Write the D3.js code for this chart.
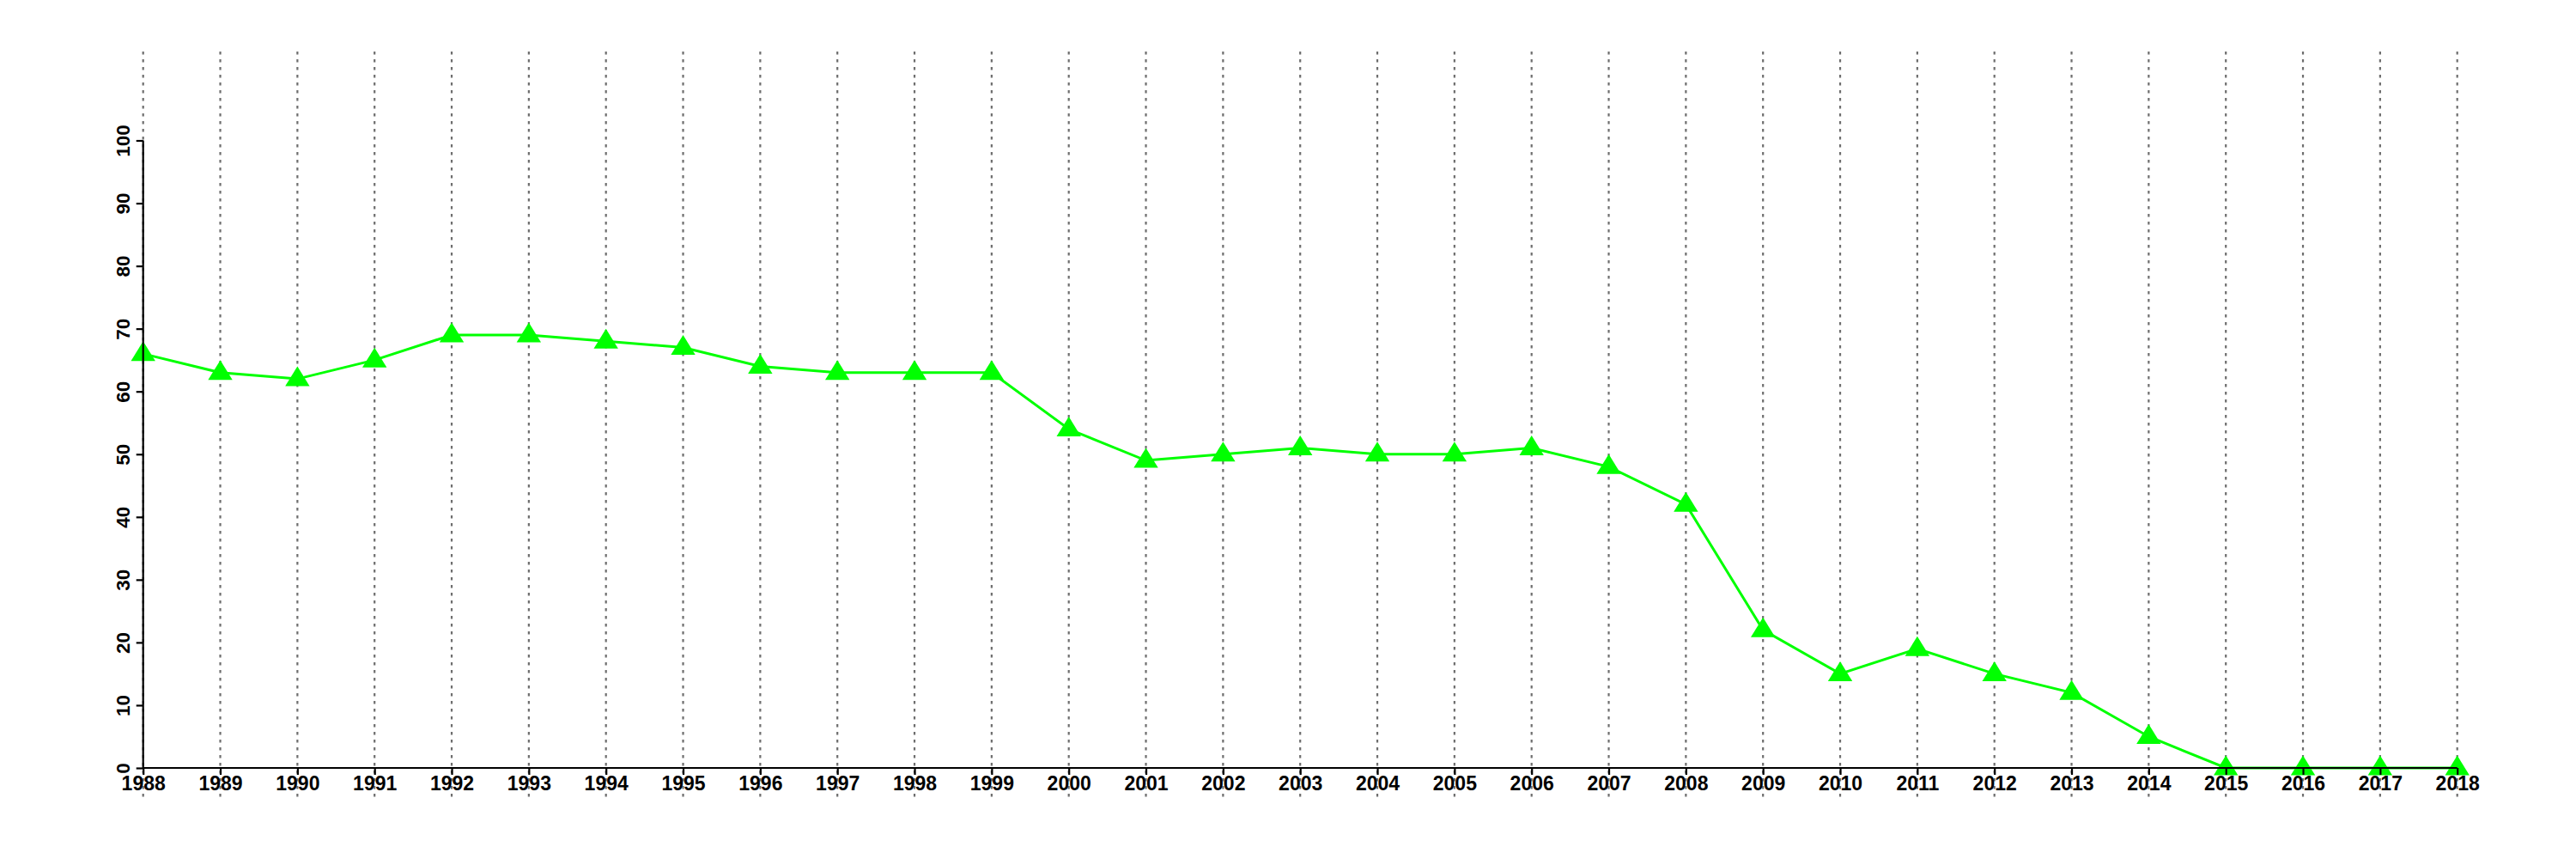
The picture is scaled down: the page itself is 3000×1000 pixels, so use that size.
<!DOCTYPE html>
<html>
<head>
<meta charset="utf-8">
<script src="https://cdn.jsdelivr.net/npm/d3@7"></script>
<style>
  html, body { margin: 0; padding: 0; background: #fff; }
  svg { display: block; }
  text { font-family: "Liberation Sans", Arial, Helvetica, sans-serif; font-weight: bold; }
</style>
</head>
<body>
<script>
const years = [1988,1989,1990,1991,1992,1993,1994,1995,1996,1997,1998,1999,2000,2001,2002,2003,2004,2005,2006,2007,2008,2009,2010,2011,2012,2013,2014,2015,2016,2017,2018];
const values = [66,63,62,65,69,69,68,67,64,63,63,63,54,49,50,51,50,50,51,48,42,22,15,19,15,12,5,0,0,0,0];
const yTicks = [0,10,20,30,40,50,60,70,80,90,100];

const W = 3000, H = 1000;
const svg = d3.select("body").append("svg").attr("width", W).attr("height", H);

const x = d3.scaleLinear().domain([1988, 2018]).range([166.7, 2861.7]);
const y = d3.scaleLinear().domain([0, 100]).range([894, 163.5]);

// vertical dotted grid lines
svg.append("g").selectAll("line").data(years).join("line")
  .attr("x1", d => x(d)).attr("x2", d => x(d))
  .attr("y1", 60).attr("y2", 928)
  .attr("stroke", "#6e6e6e").attr("stroke-width", 2.2)
  .attr("stroke-dasharray", "3.6,5.4");

const data = years.map((yr, i) => ({yr, v: values[i]}));

// line
svg.append("path").datum(data)
  .attr("fill", "none").attr("stroke", "#00ff00").attr("stroke-width", 3)
  .attr("d", d3.line().x(d => x(d.yr)).y(d => y(d.v)));

// triangles
svg.append("g").selectAll("path").data(data).join("path")
  .attr("transform", d => `translate(${x(d.yr)},${y(d.v)})`)
  .attr("d", "M0,-14.5L14.2,8.5L-14.2,8.5Z")
  .attr("fill", "#00ff00");

// y axis
const yAxis = svg.append("g").attr("transform", `translate(${x(1988)},0)`)
  .call(d3.axisLeft(y).tickValues(yTicks).tickSize(8).tickPadding(0).tickFormat(d3.format("d")));
yAxis.select(".domain").attr("stroke", "#000").attr("stroke-width", 2.2).attr("d", `M0,${y(100)}V${y(0)}`);
yAxis.selectAll(".tick line").attr("stroke", "#000").attr("stroke-width", 2.2);
yAxis.selectAll(".tick text")
  .attr("fill", "#000").attr("font-size", 22.5)
  .attr("transform", "translate(-16,0) rotate(-90)")
  .attr("x", 0).attr("y", 0).attr("dy", 0)
  .attr("text-anchor", "middle");

// x axis
const xAxis = svg.append("g").attr("transform", `translate(0,${y(0)})`)
  .call(d3.axisBottom(x).tickValues(years).tickSize(8).tickPadding(0).tickFormat(d3.format("d")));
xAxis.select(".domain").attr("stroke", "#000").attr("stroke-width", 2.2).attr("d", `M${x(1988)},0H${x(2018)}`);
xAxis.selectAll(".tick line").attr("stroke", "#000").attr("stroke-width", 2.2);
xAxis.selectAll(".tick text")
  .attr("fill", "#000").attr("font-size", 23)
  .attr("y", 26).attr("dy", 0);
</script>
</body>
</html>
